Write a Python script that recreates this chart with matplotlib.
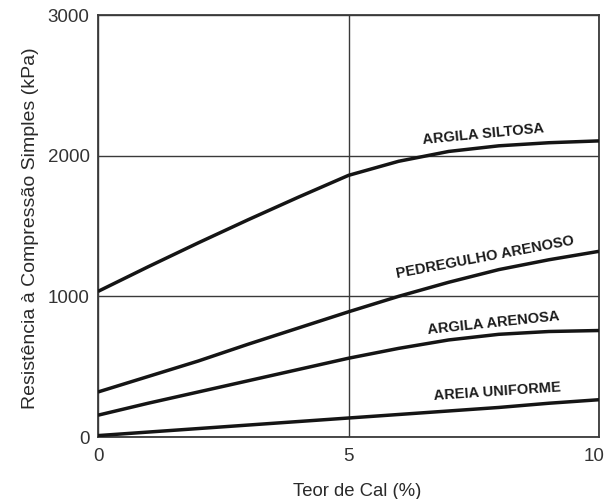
import matplotlib
matplotlib.use("Agg")
import matplotlib.pyplot as plt
from matplotlib import font_manager
from matplotlib.transforms import ScaledTranslation

# Lime content (%) and unconfined compressive strength (kPa) per soil type
teor_cal = [0, 1, 2, 3, 4, 5, 6, 7, 8, 9, 10]
argila_siltosa = [1035, 1210, 1380, 1545, 1705, 1860, 1960, 2030, 2070, 2092, 2105]
pedregulho_arenoso = [320, 430, 540, 660, 775, 890, 1000, 1100, 1190, 1260, 1320]
argila_arenosa = [155, 240, 320, 400, 480, 560, 630, 690, 730, 750, 757]
areia_uniforme = [10, 35, 60, 85, 110, 135, 160, 185, 210, 240, 265]

series_names = ["ARGILA SILTOSA", "PEDREGULHO ARENOSO", "ARGILA ARENOSA", "AREIA UNIFORME"]
series_values = [argila_siltosa, pedregulho_arenoso, argila_arenosa, areia_uniforme]

x_ticks = [0, 5, 10]
y_ticks = [0, 1000, 2000, 3000]

# label anchor (x, y) and rotation for each curve
label_pos = [(7.70, 2154, 5.5), (7.72, 1280, 10.7), (7.90, 810, 6.0), (7.96, 320, 3.9)]

installed = {f.name for f in font_manager.fontManager.ttflist}
label_family = "Liberation Sans Narrow" if "Liberation Sans Narrow" in installed else "Liberation Sans"
label_size = 13 if label_family == "Liberation Sans Narrow" else 10.5

plt.rcParams["font.family"] = ["Liberation Sans", "DejaVu Sans"]

fig = plt.figure(figsize=(6.05, 4.99), dpi=100)
ax = fig.add_axes([98 / 605, 62 / 499, 501 / 605, 422 / 499])

for vals in series_values:
    ax.plot(teor_cal, vals, color="#151515", lw=2.5, solid_capstyle="butt",
            solid_joinstyle="round", zorder=3)

for name, (lx, ly, rot) in zip(series_names, label_pos):
    ax.text(lx, ly, name, family=label_family, fontsize=label_size, fontweight="bold",
            color="#1a1a1a", rotation=rot, rotation_mode="anchor",
            ha="center", va="center", zorder=4)

ax.set_xlim(0, 10)
ax.set_ylim(0, 3000)
ax.set_xticks(x_ticks)
ax.set_yticks(y_ticks)
ax.set_xticklabels([str(t) for t in x_ticks])
ax.set_yticklabels([str(t) for t in y_ticks])
ax.tick_params(axis="both", length=0, labelsize=13.5, labelcolor="#333333")
ax.tick_params(axis="y", pad=6)
ax.tick_params(axis="x", pad=8)

# keep the last x tick label inside the figure edge
last = ax.get_xticklabels()[-1]
last.set_transform(last.get_transform() + ScaledTranslation(-5 / 100, 0, fig.dpi_scale_trans))

ax.grid(True, color="#3a3a3a", lw=1.0, zorder=1)
for s in ax.spines.values():
    s.set_color("#3a3a3a")
    s.set_linewidth(1.3)

fig.text(31 / 605, 1 - 228 / 499, "Resistência à Compressão Simples (kPa)",
         rotation=90, ha="center", va="center", fontsize=14, color="#2a2a2a")
fig.text(357 / 605, 1 - 491 / 499, "Teor de Cal (%)",
         ha="center", va="center", fontsize=13.3, color="#2a2a2a")

fig.savefig("out.png", dpi=100, facecolor="white")
